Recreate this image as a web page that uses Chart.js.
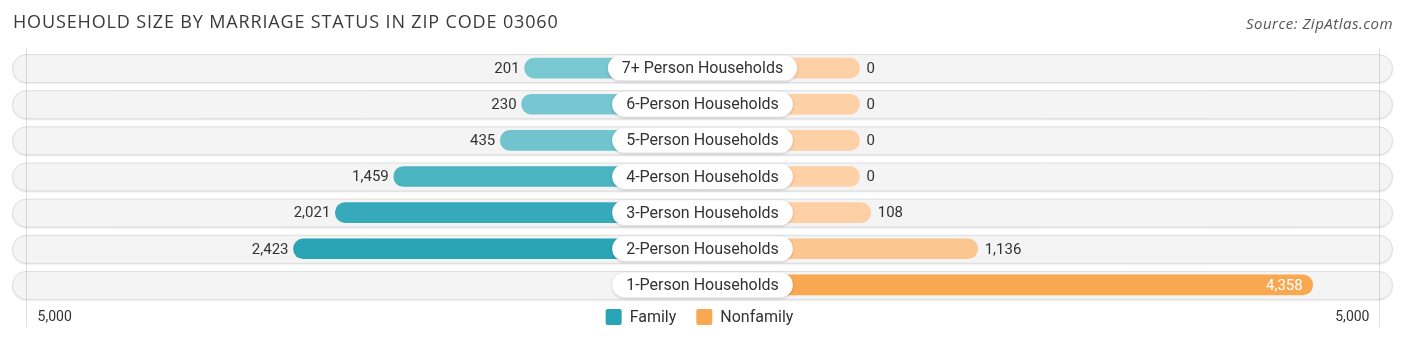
<!DOCTYPE html>
<html>
<head>
<meta charset="utf-8">
<script src="https://cdn.jsdelivr.net/npm/chart.js@4/dist/chart.umd.min.js"></script>
<style>
  html, body { margin: 0; padding: 0; background: #ffffff; }
  #wrap { position: relative; width: 1406px; height: 340px; }
  #title { position: absolute; left: 13px; top: 9px; font-family: "Open Sans", sans-serif; font-size: 18px; color: #3a3a3a; letter-spacing: 0.85px; white-space: nowrap; }
  #source { position: absolute; right: 13px; top: 13px; font-family: "Open Sans", sans-serif; font-style: italic; font-size: 15px; letter-spacing: 0.5px; color: #555; white-space: nowrap; }
  canvas { position: absolute; left: 0; top: 0; }
</style>
</head>
<body>
<div id="wrap">
  <canvas id="c" width="1406" height="340"></canvas>
  <div id="title">HOUSEHOLD SIZE BY MARRIAGE STATUS IN ZIP CODE 03060</div>
  <div id="source">Source: ZipAtlas.com</div>
</div>
<script>
const categories = ["7+ Person Households", "6-Person Households", "5-Person Households", "4-Person Households", "3-Person Households", "2-Person Households", "1-Person Households"];
const familyValues = [201, 230, 435, 1459, 2021, 2423, null];
const nonfamilyValues = [0, 0, 0, 0, 108, 1136, 4358];
const seriesNames = ["Family", "Nonfamily"];
const axisMax = 5000;
const axisTickLabel = "5,000";

const OFFSET = 1510;   // room reserved for the centre label
const LIMIT = 6640;    // half-range of the x scale

function mix(a, b, t) {
  return 'rgb(' + a.map((v, i) => Math.round(v + (b[i] - v) * t)).join(',') + ')';
}
const famLight = [126, 203, 212], famDark = [40, 164, 181];
const nonLight = [253, 208, 166], nonDark = [249, 168, 82];
const famMax = Math.max(...familyValues.filter(v => v != null)), nonMax = Math.max(...nonfamilyValues);
const famColors = familyValues.map(v => mix(famLight, famDark, (v || 0) / famMax));
const nonColors = nonfamilyValues.map(v => mix(nonLight, nonDark, v / nonMax));
const fmt = v => v.toLocaleString('en-US');

const FONT = 'Roboto, "Noto Sans", sans-serif';

const decor = {
  id: 'decor',
  beforeDatasetsDraw(chart) {
    const ctx = chart.ctx, ca = chart.chartArea, y = chart.scales.y, x = chart.scales.x;
    ctx.save();
    categories.forEach((c, i) => {
      const cy = y.getPixelForValue(i);
      const h = 28, top = cy - h / 2, r = h / 2;
      ctx.beginPath();
      ctx.roundRect(ca.left + 0.5, top + 0.5, ca.right - ca.left - 1, h, r);
      ctx.shadowColor = 'rgba(0,0,0,0.12)';
      ctx.shadowBlur = 2;
      ctx.shadowOffsetY = 1;
      ctx.fillStyle = '#f4f4f4';
      ctx.fill();
      ctx.shadowColor = 'transparent';
      ctx.strokeStyle = '#dddddd';
      ctx.lineWidth = 1;
      ctx.stroke();
    });
    [-(axisMax + OFFSET), axisMax + OFFSET].forEach(v => {
      const px = Math.round(x.getPixelForValue(v)) + 0.5;
      ctx.beginPath();
      ctx.moveTo(px, ca.top - 2);
      ctx.lineTo(px, ca.bottom + 24);
      ctx.strokeStyle = 'rgba(0,0,0,0.12)';
      ctx.lineWidth = 1;
      ctx.stroke();
    });
    ctx.restore();
  },
  afterDatasetsDraw(chart) {
    const ctx = chart.ctx, y = chart.scales.y, x = chart.scales.x;
    const cx = x.getPixelForValue(0);
    ctx.save();
    ctx.textBaseline = 'middle';
    categories.forEach((c, i) => {
      const cy = y.getPixelForValue(i);
      ctx.font = '16px ' + FONT;
      const tw = ctx.measureText(c).width;
      const bw = tw + 28, bh = 25;
      ctx.beginPath();
      ctx.roundRect(cx - bw / 2, cy - bh / 2, bw, bh, bh / 2);
      ctx.shadowColor = 'rgba(0,0,0,0.18)';
      ctx.shadowBlur = 3;
      ctx.shadowOffsetY = 1;
      ctx.fillStyle = '#ffffff';
      ctx.fill();
      ctx.shadowColor = 'transparent';
      ctx.fillStyle = '#333333';
      ctx.textAlign = 'center';
      ctx.fillText(c, cx, cy + 1);
      ctx.font = '15px ' + FONT;
      const fv = familyValues[i];
      if (fv != null) {
        const fEnd = x.getPixelForValue(-(fv + OFFSET));
        ctx.fillStyle = '#333333';
        ctx.textAlign = 'right';
        ctx.fillText(fmt(fv), fEnd - 5, cy + 1);
      }
      const nv = nonfamilyValues[i];
      if (nv != null) {
        const nEnd = x.getPixelForValue(nv + OFFSET);
        if (nv / axisMax > 0.7) {
          ctx.fillStyle = '#ffffff';
          ctx.textAlign = 'right';
          ctx.fillText(fmt(nv), nEnd - 10, cy + 1);
        } else {
          ctx.fillStyle = '#333333';
          ctx.textAlign = 'left';
          ctx.fillText(fmt(nv), nEnd + 7, cy + 1);
        }
      }
    });
    const ly = 317;
    ctx.font = '14px ' + FONT;
    ctx.fillStyle = '#333333';
    ctx.textAlign = 'left';
    ctx.fillText(axisTickLabel, x.getPixelForValue(-(axisMax + OFFSET)) + 12, ly);
    ctx.textAlign = 'right';
    ctx.fillText(axisTickLabel, x.getPixelForValue(axisMax + OFFSET) - 10, ly);
    ctx.font = '16px ' + FONT;
    const items = [[seriesNames[0], mix(famLight, famDark, 1)], [seriesNames[1], mix(nonLight, nonDark, 1)]];
    const sw = 16, gap = 8, between = 20;
    let total = 0;
    items.forEach((it, k) => { total += sw + gap + ctx.measureText(it[0]).width + (k ? 0 : between); });
    let lx = cx - total / 2 - 3;
    items.forEach(it => {
      ctx.fillStyle = it[1];
      ctx.beginPath();
      ctx.roundRect(lx, ly - 8, sw, sw, 2);
      ctx.fill();
      lx += sw + gap;
      ctx.fillStyle = '#333333';
      ctx.textAlign = 'left';
      ctx.fillText(it[0], lx, ly + 1);
      lx += ctx.measureText(it[0]).width + between;
    });
    ctx.restore();
  }
};

new Chart(document.getElementById('c'), {
  type: 'bar',
  data: {
    labels: categories,
    datasets: [
      {
        label: seriesNames[0],
        data: familyValues.map(v => v == null ? null : [-(v + OFFSET), 0]),
        backgroundColor: famColors,
        borderRadius: 10,
        borderSkipped: false,
        barThickness: 20,
        grouped: false
      },
      {
        label: seriesNames[1],
        data: nonfamilyValues.map(v => v == null ? null : [0, v + OFFSET]),
        backgroundColor: nonColors,
        borderRadius: 10,
        borderSkipped: false,
        barThickness: 20,
        grouped: false
      }
    ]
  },
  options: {
    indexAxis: 'y',
    responsive: false,
    animation: false,
    layout: { padding: { left: 12, right: 13, top: 50, bottom: 37 } },
    scales: {
      x: { display: false, min: -LIMIT, max: LIMIT },
      y: { display: false }
    },
    plugins: { legend: { display: false }, tooltip: { enabled: false } }
  },
  plugins: [decor]
});
</script>
</body>
</html>
